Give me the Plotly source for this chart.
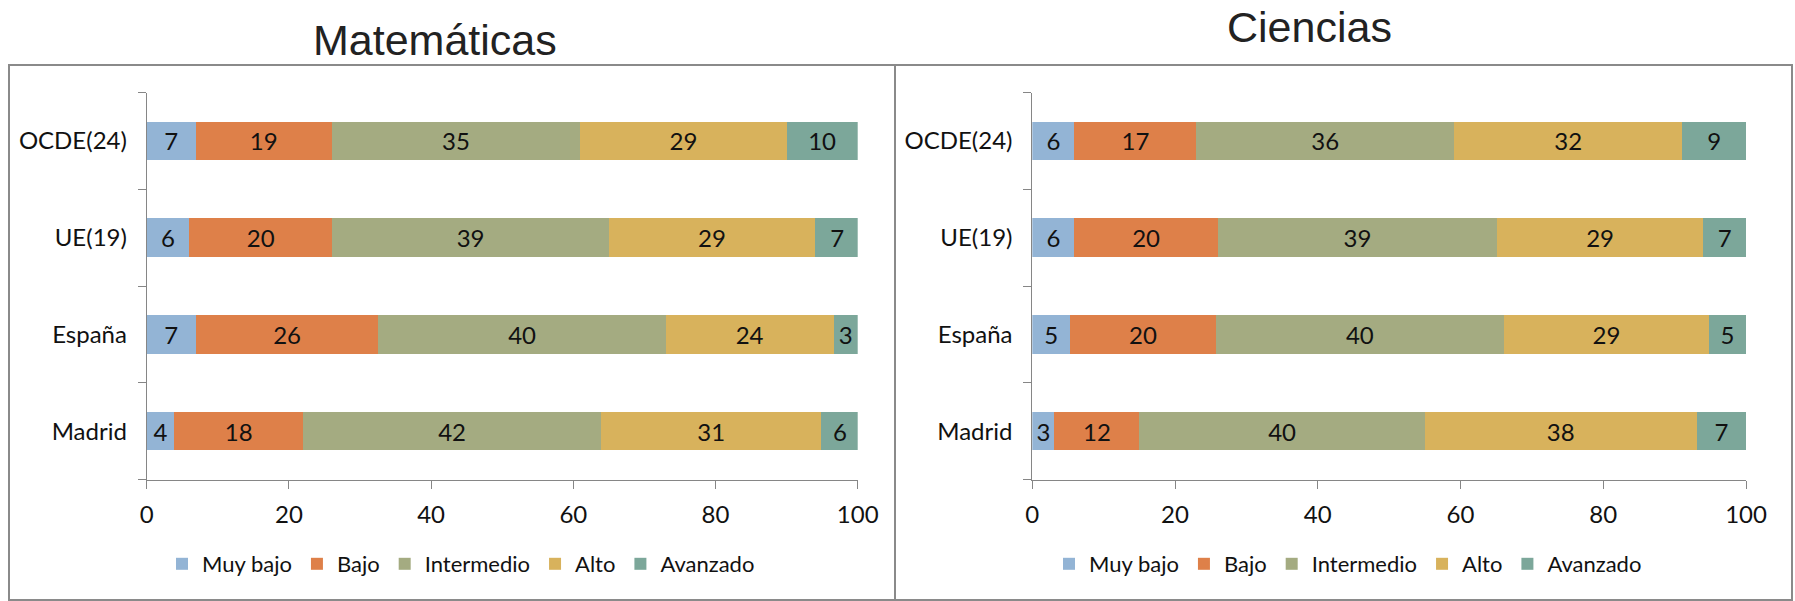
import plotly.graph_objects as go

W, H = 1795, 601

categories = ["Madrid", "España", "UE(19)", "OCDE(24)"]
levels = ["Muy bajo", "Bajo", "Intermedio", "Alto", "Avanzado"]
colors = ["#93B4D5", "#DE8049", "#A4AB81", "#D8B25C", "#7CA79A"]
x_ticks = [0, 20, 40, 60, 80, 100]

# Matemáticas – bar lengths (%), order = categories
mat_muy_bajo = [3.9, 6.9, 6.0, 6.9]
mat_bajo = [18.1, 25.7, 20.1, 19.1]
mat_intermedio = [41.9, 40.4, 38.9, 35.0]
mat_alto = [31.0, 23.6, 29.0, 29.0]
mat_avanzado = [5.2, 3.4, 6.2, 10.0]
# Matemáticas – printed data labels
mat_lbl_muy_bajo = ["4", "7", "6", "7"]
mat_lbl_bajo = ["18", "26", "20", "19"]
mat_lbl_intermedio = ["42", "40", "39", "35"]
mat_lbl_alto = ["31", "24", "29", "29"]
mat_lbl_avanzado = ["6", "3", "7", "10"]

# Ciencias – bar lengths (%)
cie_muy_bajo = [3.1, 5.3, 5.9, 5.9]
cie_bajo = [11.9, 20.4, 20.1, 17.1]
cie_intermedio = [40.0, 40.4, 39.1, 36.1]
cie_alto = [38.1, 28.7, 28.9, 32.0]
cie_avanzado = [6.9, 5.2, 6.0, 8.9]
# Ciencias – printed data labels
cie_lbl_muy_bajo = ["3", "5", "6", "6"]
cie_lbl_bajo = ["12", "20", "20", "17"]
cie_lbl_intermedio = ["40", "40", "39", "36"]
cie_lbl_alto = ["38", "29", "29", "32"]
cie_lbl_avanzado = ["7", "5", "7", "9"]

mat_values = [mat_muy_bajo, mat_bajo, mat_intermedio, mat_alto, mat_avanzado]
mat_labels = [mat_lbl_muy_bajo, mat_lbl_bajo, mat_lbl_intermedio, mat_lbl_alto, mat_lbl_avanzado]
cie_values = [cie_muy_bajo, cie_bajo, cie_intermedio, cie_alto, cie_avanzado]
cie_labels = [cie_lbl_muy_bajo, cie_lbl_bajo, cie_lbl_intermedio, cie_lbl_alto, cie_lbl_avanzado]

LBL_FONT = "Lato"
FS = 24
TXT = "#111111"
AX = "#868686"

fig = go.Figure()

for vals, lbls, xa, ya, lg in [
    (mat_values, mat_labels, "x", "y", "legend"),
    (cie_values, cie_labels, "x2", "y2", "legend2"),
]:
    for name, col, v, t in zip(levels, colors, vals, lbls):
        fig.add_trace(go.Bar(
            y=categories, x=v, name=name, orientation="h",
            marker=dict(color=col, line=dict(width=0)),
            text=t, textposition="inside", insidetextanchor="middle",
            textangle=0,
            textfont=dict(family=LBL_FONT, size=FS, color=TXT),
            xaxis=xa, yaxis=ya, legend=lg, hoverinfo="skip",
        ))

ydom = [1 - 479.5 / H, 1 - 92.5 / H]

def xaxis(dom, anchor):
    return dict(domain=dom, anchor=anchor, range=[0, 100], tickvals=x_ticks,
                showline=True, linecolor=AX, linewidth=1, ticks="outside",
                ticklen=8, tickcolor=AX, tickwidth=1, showgrid=False, zeroline=False,
                tickfont=dict(family=LBL_FONT, size=FS, color=TXT),
                ticklabelstandoff=6, fixedrange=True, automargin=False)

def yaxis(anchor):
    return dict(domain=ydom, anchor=anchor, type="category",
                categoryorder="array", categoryarray=categories,
                range=[-0.5, 3.5], showline=True, linecolor=AX, linewidth=1,
                ticks="outside", ticklen=8, tickcolor=AX, tickwidth=1,
                tickson="boundaries",
                showgrid=False, zeroline=False,
                tickfont=dict(family=LBL_FONT, size=FS, color=TXT),
                ticklabelstandoff=14, fixedrange=True, automargin=False)

legend_common = dict(orientation="h", xanchor="center", yanchor="middle",
                     y=1 - 564 / H, font=dict(family=LBL_FONT, size=22, color=TXT),
                     bgcolor="rgba(0,0,0,0)", itemwidth=30, traceorder="normal")

fig.update_layout(
    template="none",
    width=W, height=H, autosize=False,
    margin=dict(l=0, r=0, t=0, b=0, pad=0, autoexpand=False),
    paper_bgcolor="white", plot_bgcolor="white",
    barmode="stack", bargap=0.6,
    showlegend=True,
    xaxis=xaxis([146.7 / W, 857.7 / W], "y"),
    yaxis=yaxis("x"),
    xaxis2=xaxis([1032.3 / W, 1746 / W], "y2"),
    yaxis2=yaxis("x2"),
    legend=dict(x=461 / W, **legend_common),
    legend2=dict(x=1348 / W, **legend_common),
    shapes=[
        dict(type="rect", xref="paper", yref="paper",
             x0=9 / W, x1=895 / W, y0=1 - 600 / H, y1=1 - 65 / H,
             line=dict(color="#8a8a8a", width=2), layer="below"),
        dict(type="rect", xref="paper", yref="paper",
             x0=895 / W, x1=1792 / W, y0=1 - 600 / H, y1=1 - 65 / H,
             line=dict(color="#8a8a8a", width=2), layer="below"),
    ],
    annotations=[
        dict(text="Matemáticas", xref="paper", yref="paper", x=435 / W, y=1 - 40 / H,
             xanchor="center", yanchor="middle", showarrow=False,
             font=dict(family="Liberation Sans", size=43, color="#222222")),
        dict(text="Ciencias", xref="paper", yref="paper", x=1309 / W, y=1 - 27 / H,
             xanchor="center", yanchor="middle", showarrow=False,
             font=dict(family="Liberation Sans", size=43, color="#222222")),
    ],
)

fig.write_html(
    "out.html",
    config={"displayModeBar": False},
    post_script="document.body.style.margin='0';document.body.style.overflow='hidden';",
)
